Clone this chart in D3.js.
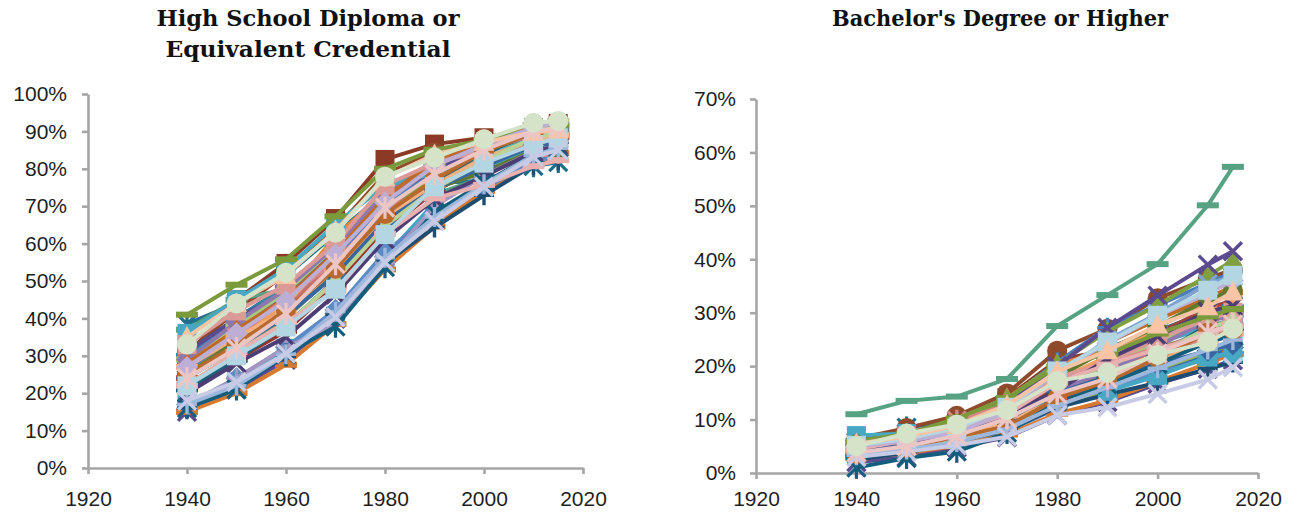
<!DOCTYPE html>
<html>
<head>
<meta charset="utf-8">
<script src="https://cdn.jsdelivr.net/npm/d3@7"></script>
<style>
  html, body { margin: 0; padding: 0; background: #fff; }
  svg { display: block; }
  .tick text { font-family: "Liberation Sans", Arial, sans-serif; font-size: 21px; fill: #1e1e1e; }
  .title { font-family: "DejaVu Serif", serif; font-weight: bold; font-size: 22px; fill: #111; }
</style>
</head>
<body>
<svg id="chart" width="1299" height="519"></svg>
<script>
// Census years shown on the horizontal axis
const years = [1940, 1950, 1960, 1970, 1980, 1990, 2000, 2010, 2015];

// States in alphabetical order (plus the District of Columbia)
const states = [
  "Alabama", "Alaska", "Arizona", "Arkansas", "California", "Colorado", "Connecticut",
  "Delaware", "District of Columbia", "Florida", "Georgia", "Hawaii", "Idaho", "Illinois",
  "Indiana", "Iowa", "Kansas", "Kentucky", "Louisiana", "Maine", "Maryland", "Massachusetts",
  "Michigan", "Minnesota", "Mississippi", "Missouri", "Montana", "Nebraska", "Nevada",
  "New Hampshire", "New Jersey", "New Mexico", "New York", "North Carolina", "North Dakota",
  "Ohio", "Oklahoma", "Oregon", "Pennsylvania", "Rhode Island", "South Carolina",
  "South Dakota", "Tennessee", "Texas", "Utah", "Vermont", "Virginia", "Washington",
  "West Virginia", "Wisconsin", "Wyoming"
];

// Share of adults 25+ with a high school diploma or equivalent (%), one row per state
const highSchool = [
  [16, 22, 30.3, 41.3, 56.5, 66.9, 75.3, 82.1, 84.3],
  [30, 45, 54.7, 66.7, 82.5, 86.6, 88.3, 91.0, 92.1],
  [27, 37, 45.7, 58.1, 72.4, 78.7, 81.0, 85.6, 86.0],
  [15, 21, 28.9, 39.9, 55.5, 66.3, 75.3, 82.9, 84.8],
  [38.5, 44, 51.5, 62.6, 73.5, 76.2, 76.8, 80.7, 81.8],
  [31, 42, 52.0, 63.9, 78.6, 84.4, 86.9, 89.7, 90.7],
  [26, 35, 43.8, 56.0, 70.3, 79.2, 84.0, 88.6, 89.9],
  [24, 35, 43.3, 54.6, 68.6, 77.5, 82.6, 87.7, 88.4],
  [37, 45, 47.8, 55.2, 67.1, 73.1, 77.8, 87.4, 89.3],
  [24, 34, 42.6, 52.6, 66.7, 74.4, 79.9, 85.5, 87.0],
  [17, 23, 32.0, 40.6, 56.4, 70.9, 78.6, 84.3, 85.4],
  [24, 35, 46.1, 61.9, 73.8, 80.1, 84.6, 89.9, 91.0],
  [31, 40, 48.5, 59.5, 73.7, 79.7, 84.7, 88.3, 89.9],
  [25, 33, 40.4, 52.6, 66.5, 76.2, 81.4, 86.9, 88.3],
  [25, 34, 41.8, 52.9, 66.4, 75.6, 82.1, 86.6, 88.1],
  [28, 37, 46.3, 59.0, 71.5, 80.1, 86.1, 90.6, 91.5],
  [30, 40, 48.2, 59.9, 73.3, 81.3, 86.0, 89.2, 90.2],
  [15, 20, 27.6, 38.5, 53.1, 64.6, 74.1, 81.9, 84.2],
  [17, 24, 32.3, 42.3, 57.7, 68.3, 74.8, 81.9, 83.7],
  [28, 36, 43.3, 54.7, 68.7, 78.8, 85.4, 90.2, 91.6],
  [22, 31, 40.0, 52.3, 67.4, 78.4, 83.8, 88.1, 89.4],
  [31, 40, 47.0, 58.5, 72.2, 80.0, 84.8, 89.1, 90.3],
  [25, 33, 40.9, 52.8, 68.0, 76.8, 83.4, 88.0, 89.6],
  [25, 34, 43.9, 57.6, 73.1, 82.4, 87.9, 91.8, 92.6],
  [16, 22, 29.8, 41.0, 54.8, 64.3, 72.9, 81.0, 82.3],
  [22, 29, 36.6, 48.8, 63.5, 73.9, 81.3, 86.9, 88.8],
  [29, 38, 47.0, 59.2, 74.4, 81.0, 87.2, 91.7, 92.8],
  [29, 39, 47.8, 59.3, 73.4, 81.8, 86.6, 90.4, 90.7],
  [36, 45, 53.2, 65.2, 75.5, 78.8, 80.7, 84.7, 85.1],
  [28, 37, 45.4, 57.6, 72.3, 82.2, 87.4, 91.3, 92.4],
  [24, 33, 40.7, 52.5, 67.1, 76.7, 82.1, 88.0, 89.1],
  [24, 35, 45.5, 55.2, 68.9, 75.1, 78.9, 83.3, 84.2],
  [25, 34, 40.9, 52.7, 66.3, 74.8, 79.1, 84.9, 85.6],
  [17, 24, 32.3, 38.5, 54.8, 70.0, 78.1, 84.7, 86.3],
  [21, 29, 38.1, 50.3, 66.4, 76.7, 83.9, 90.1, 91.7],
  [27, 35, 41.8, 53.2, 67.0, 75.7, 83.0, 87.6, 89.1],
  [24, 32, 40.6, 51.6, 66.0, 74.6, 80.6, 86.2, 86.9],
  [33, 42, 48.9, 60.0, 75.6, 81.5, 85.1, 89.1, 89.6],
  [22, 31, 38.1, 50.2, 64.7, 74.7, 81.9, 88.4, 89.5],
  [20, 28, 35.0, 46.4, 61.1, 72.0, 78.0, 84.5, 86.2],
  [16, 21, 30.4, 37.8, 53.7, 68.3, 76.3, 83.6, 85.6],
  [25, 33, 42.2, 53.3, 67.9, 77.1, 84.6, 89.6, 90.9],
  [17, 22, 30.4, 41.8, 56.2, 67.1, 75.9, 83.6, 85.5],
  [22, 31, 39.0, 47.4, 62.6, 72.1, 75.7, 80.7, 82.3],
  [41, 49, 55.8, 67.3, 80.0, 85.1, 87.7, 90.6, 91.5],
  [27, 36, 44.6, 57.1, 71.0, 80.8, 86.4, 91.0, 92.3],
  [22, 30, 37.7, 47.8, 62.4, 75.2, 81.5, 86.5, 88.3],
  [35, 44, 51.5, 63.5, 77.6, 83.8, 87.1, 89.8, 90.4],
  [18, 23, 30.6, 40.3, 55.0, 66.0, 75.2, 83.2, 85.0],
  [24, 32, 41.2, 54.5, 69.6, 78.6, 85.1, 90.1, 91.0],
  [33, 44, 52.2, 62.9, 77.9, 83.0, 87.9, 92.3, 92.8]
];

// Share of adults 25+ with a bachelor's degree or higher (%), one row per state
const bachelors = [
  [3.3, 4.3, 5.7, 7.8, 12.2, 15.7, 19.0, 21.9, 23.5],
  [4.5, 6.5, 9.5, 14.1, 21.1, 23.0, 24.7, 27.9, 28.0],
  [5.0, 6.8, 9.1, 12.6, 17.4, 20.3, 23.5, 25.9, 27.5],
  [2.0, 3.0, 4.8, 6.7, 10.8, 13.3, 16.7, 19.5, 21.1],
  [5.7, 8.5, 9.8, 13.4, 19.6, 23.4, 26.6, 30.1, 31.4],
  [6.4, 8.4, 10.7, 14.9, 22.9, 27.0, 32.7, 36.4, 38.1],
  [5.8, 7.5, 9.5, 13.7, 20.7, 27.2, 31.4, 35.5, 37.6],
  [5.6, 7.3, 8.7, 13.1, 17.5, 21.4, 25.0, 28.7, 30.0],
  [11.0, 13.5, 14.3, 17.6, 27.5, 33.3, 39.1, 50.1, 57.3],
  [4.9, 6.3, 7.8, 10.3, 14.9, 18.3, 22.3, 25.9, 27.3],
  [3.2, 4.6, 6.5, 9.2, 14.6, 19.3, 24.3, 27.3, 28.8],
  [5.0, 6.6, 9.6, 14.0, 20.3, 22.9, 26.2, 29.5, 30.8],
  [4.2, 5.6, 7.4, 10.0, 15.8, 17.7, 21.7, 24.4, 25.9],
  [4.6, 6.0, 7.5, 10.3, 16.2, 21.0, 26.1, 30.8, 32.3],
  [3.9, 5.0, 6.4, 8.3, 12.5, 15.6, 19.4, 22.7, 24.1],
  [4.0, 5.2, 6.8, 9.1, 13.9, 16.9, 21.2, 24.9, 26.7],
  [4.8, 6.4, 8.3, 11.4, 17.0, 21.1, 25.8, 29.8, 31.0],
  [2.8, 3.7, 5.1, 7.2, 11.1, 13.6, 17.1, 20.5, 22.3],
  [3.4, 4.9, 6.8, 9.0, 13.9, 16.1, 18.7, 21.4, 22.5],
  [4.1, 5.4, 6.6, 8.9, 14.4, 18.8, 22.9, 26.8, 29.0],
  [5.6, 7.4, 9.3, 13.9, 20.4, 26.5, 31.4, 36.9, 39.8],
  [5.8, 7.4, 9.0, 12.6, 20.0, 27.2, 33.2, 39.0, 41.5],
  [4.2, 5.4, 7.2, 9.9, 14.3, 17.4, 21.8, 25.2, 26.9],
  [4.3, 5.8, 7.9, 11.1, 17.4, 21.8, 27.4, 31.8, 33.7],
  [2.5, 3.8, 5.9, 8.1, 12.3, 14.7, 16.9, 19.5, 20.7],
  [4.0, 5.3, 6.5, 9.0, 13.9, 17.8, 21.6, 25.6, 27.1],
  [4.5, 5.9, 8.0, 11.0, 17.5, 19.8, 24.4, 28.8, 29.5],
  [4.4, 5.6, 7.0, 9.6, 15.5, 18.9, 23.7, 28.6, 29.3],
  [7.0, 7.4, 8.7, 10.8, 14.4, 15.3, 18.2, 21.7, 22.4],
  [4.4, 6.0, 8.2, 10.9, 18.2, 24.4, 28.7, 32.8, 34.9],
  [5.0, 6.5, 8.8, 11.8, 18.3, 24.9, 29.8, 35.4, 36.8],
  [4.6, 6.9, 9.8, 12.7, 17.6, 20.4, 23.5, 25.0, 26.3],
  [5.4, 7.0, 9.2, 11.9, 17.9, 23.1, 27.4, 32.5, 34.2],
  [3.4, 4.8, 6.0, 8.5, 13.2, 17.4, 22.5, 26.5, 28.4],
  [3.1, 4.4, 6.1, 8.4, 14.8, 18.1, 22.0, 27.6, 27.6],
  [4.1, 5.4, 7.1, 9.6, 13.7, 17.0, 21.1, 24.6, 26.1],
  [4.3, 5.9, 7.9, 10.0, 15.1, 17.8, 20.3, 22.9, 24.1],
  [5.0, 6.3, 8.2, 11.9, 17.9, 20.6, 25.1, 28.8, 30.1],
  [3.8, 5.0, 6.1, 8.7, 13.6, 17.9, 22.4, 27.1, 28.6],
  [3.8, 5.1, 7.1, 10.9, 15.4, 21.3, 25.6, 30.2, 31.2],
  [1.0, 2.8, 4.0, 7.5, 13.4, 16.6, 20.4, 24.5, 25.8],
  [3.5, 4.7, 6.8, 8.7, 14.0, 17.2, 21.5, 26.3, 26.8],
  [3.3, 4.4, 5.8, 8.2, 12.6, 16.0, 19.6, 23.1, 24.9],
  [4.5, 6.1, 8.0, 11.0, 16.9, 20.3, 23.2, 25.9, 27.6],
  [6.0, 7.3, 10.2, 14.0, 19.9, 22.3, 26.1, 29.3, 30.7],
  [5.0, 6.0, 7.5, 11.5, 19.0, 24.3, 29.4, 33.6, 36.0],
  [5.2, 6.4, 8.4, 12.3, 19.1, 24.5, 29.5, 34.2, 37.0],
  [5.5, 6.8, 8.9, 12.7, 19.0, 22.9, 27.7, 31.1, 33.9],
  [3.0, 4.0, 5.2, 6.8, 10.8, 12.3, 14.8, 17.5, 19.8],
  [3.8, 5.0, 7.0, 10.2, 14.8, 17.7, 22.4, 26.3, 27.8],
  [5.0, 7.4, 9.1, 11.8, 17.2, 18.8, 22.1, 24.5, 27.0]
];

// Axis tick values
const xTicks = [1920, 1940, 1960, 1980, 2000, 2020];
const hsTicks = [0, 10, 20, 30, 40, 50, 60, 70, 80, 90, 100];
const baTicks = [0, 10, 20, 30, 40, 50, 60, 70];

// Series styling: colour and marker, assigned in series order
const seriesColors = [
  "#3b6ba5", "#8b3a26", "#6e8e3a", "#5a4a8e", "#1f6e8c", "#8e4a2a",
  "#4a7ebb", "#b8504b", "#56a283", "#7f65a8", "#3fa9c5", "#e8873a",
  "#25557f", "#a1423c", "#93b558", "#6e5694", "#2e8ba6", "#d77a30",
  "#5b8ac6", "#c9706c", "#7fa040", "#5b4a90", "#53b3cc", "#f2a060",
  "#1e4d72", "#94352f", "#a9c77a", "#8d78b0", "#47a8c4", "#c06a25",
  "#7fa3d0", "#d68986", "#5e7a2f", "#a595c2", "#1b6079", "#f6b080",
  "#3766a0", "#dc9a96", "#b9d392", "#4c3d75", "#135e7c", "#b8692e",
  "#9db7dc", "#e8b0ae", "#7a9a3c", "#bcaed4", "#b3d6e2", "#f8c4a6",
  "#c7cbe5", "#ebc6c5", "#d5e3c9"
];
const markerCycle = ["diamond", "square", "triangle", "x", "star", "circle", "plus", "dash", "dash"];

const svg = d3.select("#chart");

function drawMarker(g, type, color, cx, cy) {
  const m = g.append("g").attr("transform", `translate(${cx},${cy})`);
  switch (type) {
    case "diamond":
      m.append("path").attr("d", "M0,-11L11,0L0,11L-11,0Z").attr("fill", color);
      break;
    case "square":
      m.append("rect").attr("x", -9.5).attr("y", -9.5).attr("width", 19).attr("height", 19).attr("fill", color);
      break;
    case "triangle":
      m.append("path").attr("d", "M0,-11L10.5,8.5L-10.5,8.5Z").attr("fill", color);
      break;
    case "circle":
      m.append("circle").attr("r", 10).attr("fill", color);
      break;
    case "x":
      m.append("path").attr("d", "M-9,-9L9,9M-9,9L9,-9")
        .attr("stroke", color).attr("stroke-width", 3.4).attr("fill", "none");
      break;
    case "star":
      m.append("path").attr("d", "M-9,-9L9,9M-9,9L9,-9M0,-11L0,11")
        .attr("stroke", color).attr("stroke-width", 3.2).attr("fill", "none");
      break;
    case "plus":
      m.append("path").attr("d", "M-10,0L10,0M0,-10L0,10")
        .attr("stroke", color).attr("stroke-width", 3.4).attr("fill", "none");
      break;
    case "dash":
      m.append("rect").attr("x", -11).attr("y", -3).attr("width", 22).attr("height", 6).attr("fill", color);
      break;
  }
}

function drawPanel(opts) {
  const { rows, x, y, yTicks, titleLines, titleX, titleWidths, yPad, xPad } = opts;
  const g = svg.append("g");

  // Titles
  titleLines.forEach((t, i) => {
    g.append("text").attr("class", "title")
      .attr("x", titleX).attr("y", 26 + i * 31)
      .attr("text-anchor", "middle")
      .attr("textLength", titleWidths[i]).attr("lengthAdjust", "spacingAndGlyphs")
      .text(t);
  });

  // Axes
  const yAxis = d3.axisLeft(y).tickValues(yTicks).tickSize(6).tickSizeOuter(0)
    .tickPadding(yPad).tickFormat(d => d + "%");
  const xAxis = d3.axisBottom(x).tickValues(xTicks).tickSize(6).tickSizeOuter(0)
    .tickPadding(xPad).tickFormat(d3.format("d"));

  const gy = g.append("g").attr("transform", `translate(${x(1920)},0)`).call(yAxis);
  const gx = g.append("g").attr("transform", `translate(0,${y(0)})`).call(xAxis);
  [gx, gy].forEach(a => {
    a.select(".domain").attr("stroke", "#a6a6a6").attr("stroke-width", 2.6);
    a.selectAll(".tick line").attr("stroke", "#a6a6a6").attr("stroke-width", 2.6);
  });

  // Series: line then markers, in state order
  const line = d3.line().x((d, i) => x(years[i])).y(d => y(d));
  rows.forEach((vals, s) => {
    const color = seriesColors[s];
    const sg = g.append("g").attr("class", "series").attr("data-name", states[s]);
    sg.append("path").datum(vals).attr("d", line)
      .attr("fill", "none").attr("stroke", color).attr("stroke-width", 4)
      .attr("stroke-linejoin", "round");
    const type = markerCycle[s % markerCycle.length];
    vals.forEach((v, i) => drawMarker(sg, type, color, x(years[i]), y(v)));
  });
}

drawPanel({
  rows: highSchool,
  x: d3.scaleLinear().domain([1920, 2020]).range([88, 583]),
  y: d3.scaleLinear().domain([0, 100]).range([468, 94]),
  yTicks: hsTicks,
  titleLines: ["High School Diploma or", "Equivalent Credential"],
  titleX: 308,
  titleWidths: [303, 285],
  yPad: 15,
  xPad: 17
});

drawPanel({
  rows: bachelors,
  x: d3.scaleLinear().domain([1920, 2020]).range([756, 1258]),
  y: d3.scaleLinear().domain([0, 70]).range([473, 99]),
  yTicks: baTicks,
  titleLines: ["Bachelor's Degree or Higher"],
  titleX: 1000,
  titleWidths: [336],
  yPad: 14,
  xPad: 12
});
</script>
</body>
</html>
